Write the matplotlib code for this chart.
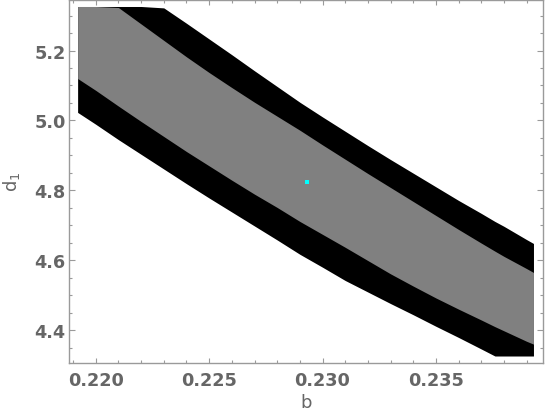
#!/usr/bin/env python
# -*- coding: utf-8 -*-

import numpy as np
import matplotlib

matplotlib.use("Agg")
import matplotlib.pyplot as plt
from matplotlib.ticker import MultipleLocator, FormatStrFormatter

b = [0.2192, 0.2200, 0.2210, 0.2220, 0.2230, 0.2240, 0.2250, 0.2260, 0.2270, 0.2280, 0.2290, 0.2300,
     0.2310, 0.2320, 0.2330, 0.2340, 0.2350, 0.2360, 0.2370, 0.2376, 0.2380, 0.2390, 0.2393]

# outer (black) region, upper and lower edge of d1
outer_hi = [5.326, 5.326, 5.326, 5.326, 5.322, 5.278, 5.233, 5.188, 5.142, 5.097, 5.052, 5.010,
            4.969, 4.928, 4.888, 4.849, 4.810, 4.771, 4.734, 4.711, 4.697, 4.659, 4.648]
outer_lo = [5.023, 4.989, 4.945, 4.903, 4.861, 4.819, 4.778, 4.738, 4.698, 4.658, 4.617, 4.580,
            4.542, 4.509, 4.476, 4.444, 4.411, 4.379, 4.346, 4.326, 4.326, 4.326, 4.326]

# inner (gray) region
inner_hi = [5.326, 5.326, 5.323, 5.276, 5.229, 5.182, 5.137, 5.094, 5.052, 5.012, 4.972, 4.930,
            4.889, 4.848, 4.808, 4.768, 4.728, 4.688, 4.649, 4.626, 4.611, 4.576, 4.565]
inner_lo = [5.120, 5.086, 5.041, 4.997, 4.954, 4.911, 4.870, 4.829, 4.789, 4.751, 4.711, 4.674,
            4.637, 4.599, 4.561, 4.526, 4.492, 4.460, 4.429, 4.410, 4.398, 4.368, 4.360]

# best fit point
best_b = [0.2293]
best_d1 = [4.824]

x_ticks = [0.220, 0.225, 0.230, 0.235]
y_ticks = [4.4, 4.6, 4.8, 5.0, 5.2]

FRAME = "#9a9a9a"
LABEL = "#666666"


def plot_region(save_path: str = "out.png") -> None:
    fig = plt.figure(figsize=(5.45, 4.14), dpi=100)
    ax = fig.add_axes([69 / 545, 1 - 364 / 414, 474 / 545, 363.5 / 414])

    ax.fill_between(b, outer_lo, outer_hi, color="black", linewidth=0)
    ax.fill_between(b, inner_lo, inner_hi, color="#808080", linewidth=0)
    ax.plot(best_b, best_d1, "s", color="#00ffff", markersize=2.2, markeredgewidth=0)

    ax.set_xlim(0.21882, 0.23972)
    ax.set_ylim(4.306, 5.346)

    ax.set_xticks(x_ticks)
    ax.set_yticks(y_ticks)
    ax.xaxis.set_minor_locator(MultipleLocator(0.001))
    ax.yaxis.set_minor_locator(MultipleLocator(0.05))
    ax.xaxis.set_major_formatter(FormatStrFormatter("%.3f"))
    ax.yaxis.set_major_formatter(FormatStrFormatter("%.1f"))

    ax.tick_params(which="both", direction="in", top=True, right=True, color=FRAME, width=0.8)
    ax.tick_params(axis="x", which="major", length=3.5, pad=5.5)
    ax.tick_params(axis="x", which="minor", length=2)
    ax.tick_params(axis="y", which="major", length=4.5, pad=2.5)
    ax.tick_params(axis="y", which="minor", length=2.2)

    for lab in ax.get_xticklabels() + ax.get_yticklabels():
        lab.set_fontweight("bold")
        lab.set_fontsize(12.7)
        lab.set_color(LABEL)

    for sp in ax.spines.values():
        sp.set_color(FRAME)
        sp.set_linewidth(1.0)

    ax.set_xlabel("b", fontsize=13, color=LABEL, labelpad=3)
    ax.set_ylabel("d$_1$", fontsize=13, color=LABEL, labelpad=9)

    plt.savefig(save_path, dpi=100)
    plt.close()


if __name__ == "__main__":
    plot_region()
